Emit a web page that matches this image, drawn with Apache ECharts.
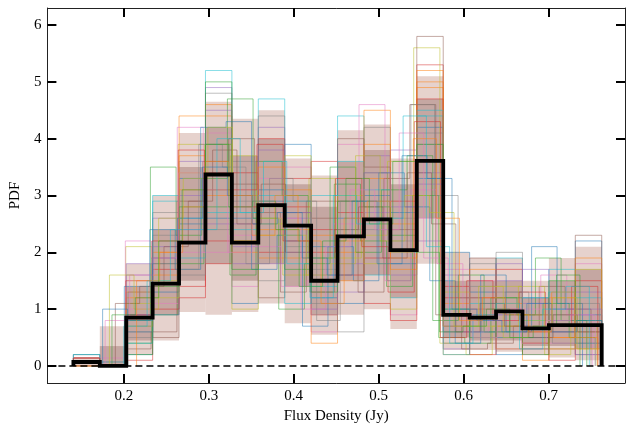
<!DOCTYPE html>
<html>
<head>
<meta charset="utf-8">
<script src="https://cdn.jsdelivr.net/npm/echarts@6/dist/echarts.min.js"></script>
<style>
html,body{margin:0;padding:0;background:#fff;}
#chart{width:626px;height:433px;}
</style>
</head>
<body>
<div id="chart"></div>
<script>
// ---- data ----
const xTicks = [0.2, 0.3, 0.4, 0.5, 0.6, 0.7];
const yTicks = [0, 1, 2, 3, 4, 5, 6];
const xTitle = 'Flux Density (Jy)';
const yTitle = 'PDF';

// main histogram (20 bins between start and end)
const mainStart = 0.1406;
const mainEnd = 0.7626;
const mainValues = [0.07, 0.0, 0.85, 1.45, 2.17, 3.37, 2.17, 2.83, 2.47, 1.50,
                    2.28, 2.58, 2.04, 3.61, 0.90, 0.85, 0.96, 0.66, 0.72, 0.72];

// density envelope of the resampled histograms (per main bin)
const outerLow  = [0.0, 0.0, 0.2, 0.45, 0.95, 0.9, 0.95, 1.1, 0.75, 0.55, 0.9, 1.0, 0.65, 1.8, 0.28, 0.28, 0.25, 0.2, 0.15, 0.1];
const outerHigh = [0.15, 0.7, 1.8, 3.0, 4.1, 4.65, 4.35, 4.5, 3.65, 3.35, 4.15, 4.25, 3.65, 5.1, 2.0, 1.9, 1.9, 1.5, 1.9, 2.1];
const innerLow  = [0.03, 0.0, 0.45, 0.9, 1.5, 1.8, 1.5, 1.8, 1.4, 0.9, 1.5, 1.6, 1.2, 2.6, 0.5, 0.45, 0.45, 0.35, 0.35, 0.3];
const innerHigh = [0.1, 0.35, 1.4, 2.4, 3.5, 4.2, 3.7, 4.0, 3.2, 2.8, 3.6, 3.8, 3.2, 4.7, 1.5, 1.5, 1.5, 1.2, 1.5, 1.7];

// individual resampled histograms (range start, range end, 20 bin values)
const sampleStart = [0.1406,0.1406,0.1406,0.1406,0.1406,0.1406,0.1406,0.1406,0.1406,0.1406,
                     0.1406,0.1406,0.1406,0.1406,0.1406,0.1406,0.1406,0.1406,0.1406,0.1406,
                     0.1406,0.1406,0.1406,0.1406,0.1406,
                     0.190,0.178,0.205,0.183,0.200,0.175,0.215,0.186];
const sampleEnd   = [0.7626,0.7626,0.755,0.7626,0.7626,0.750,0.7626,0.7626,0.757,0.7626,
                     0.7626,0.7626,0.745,0.7626,0.7626,0.7626,0.752,0.7626,0.7626,0.7626,
                     0.740,0.7626,0.7626,0.758,0.7626,
                     0.7626,0.755,0.760,0.7626,0.748,0.7626,0.758,0.737];
const sampleValues = [
  [0.07,0,0.6,1.3,2.5,3.9,2.6,3.1,2.2,1.2,2.6,2.9,1.8,4.2,0.7,0.6,0.9,0.5,0.8,0.9],
  [0.14,0,1.2,2.0,3.1,4.4,3.0,2.4,1.9,0.9,2.0,3.3,2.5,4.9,1.1,1.0,0.7,0.4,0.5,0.6],
  [0.07,0.07,0.4,0.9,1.8,2.8,1.6,3.6,3.0,1.9,3.2,2.2,1.4,3.0,0.5,0.4,1.2,0.9,1.1,0.5],
  [0.2,0,0.9,1.7,1.4,2.2,3.4,2.0,2.8,2.4,1.6,1.9,2.9,5.3,1.4,1.2,0.5,0.3,0.3,0.4],
  [0.07,0,1.6,2.6,3.6,4.9,2.1,4.2,2.6,1.0,1.3,3.7,1.6,3.4,0.3,0.8,1.5,1.1,0.6,1.3],
  [0,0,0.3,0.6,2.9,3.6,4.0,2.7,1.3,2.9,2.9,1.3,3.3,4.6,0.9,0.3,0.4,0.7,1.4,1.0],
  [0.14,0.14,1.0,1.1,2.0,4.1,1.4,3.3,3.5,0.6,3.9,2.6,0.9,2.6,1.7,1.5,0.9,0.2,0.4,1.8],
  [0.07,0,0.5,2.3,2.7,2.4,2.9,1.5,2.1,1.7,2.4,4.2,2.2,3.9,0.6,1.8,1.3,0.5,0.9,0.2],
  [0.07,0,2.1,1.5,3.9,3.1,3.7,2.3,1.6,3.3,1.9,2.3,3.6,5.6,0.4,0.2,0.7,1.4,0.2,0.7],
  [0.2,0.07,0.7,2.9,1.9,5.2,2.4,4.7,2.9,1.4,4.4,1.6,1.2,4.4,1.0,0.6,1.9,0.8,1.7,1.2],
  [0.07,0,0.2,0.9,3.3,2.6,1.1,2.9,3.9,2.1,1.1,3.0,2.7,3.3,2.0,1.3,0.2,1.2,0.7,2.2],
  [0,0,1.3,1.8,4.4,4.6,2.0,1.9,2.4,0.4,2.2,4.5,1.9,5.0,0.2,0.9,1.1,0.1,1.2,0.3],
  [0.07,0,0.8,3.5,2.3,3.3,4.7,2.6,1.0,1.8,3.5,2.0,3.1,3.7,0.8,1.6,0.6,0.9,1.9,0.8],
  [0.14,0,0.1,1.0,1.2,1.8,2.8,4.0,3.3,3.6,2.7,1.1,0.8,4.7,1.2,0.2,1.7,0.6,0.1,1.5],
  [0.07,0,1.8,2.1,3.0,4.5,1.8,3.8,2.0,0.9,1.8,2.7,3.8,2.2,0.6,1.0,0.3,1.7,1.0,0.2],
  [0,0,0.9,0.5,2.2,3.1,3.2,1.2,2.7,2.6,4.0,3.5,2.4,5.8,0.9,1.9,1.0,0.4,0.6,2.3],
  [0.07,0.07,2.2,1.9,4.2,2.0,2.3,2.1,1.4,1.5,2.5,4.6,1.5,3.1,1.8,0.6,0.8,1.0,1.6,0.9],
  [0.14,0,0.6,2.7,1.6,4.8,3.6,4.4,2.5,1.1,0.6,2.4,2.6,4.1,0.4,1.4,2.0,0.3,0.8,0.6],
  [0.07,0,1.1,1.2,3.4,3.9,1.0,2.5,3.7,1.9,3.0,1.8,1.0,3.6,1.3,0.7,1.4,0.8,0.3,1.7],
  [0.2,0,0.4,3.0,2.6,2.7,2.7,3.0,1.1,3.0,3.6,3.1,2.0,4.5,0.2,1.1,0.5,1.2,1.3,0.4],
  [0.07,0,1.4,2.4,1.7,4.2,4.3,1.7,2.3,0.7,2.1,1.5,3.4,2.8,1.5,0.4,1.6,0.6,2.1,1.1],
  [0,0,0.7,1.6,3.7,3.0,2.2,3.5,3.1,2.3,1.5,3.9,1.7,5.2,0.7,1.7,0.3,0.9,0.5,1.9],
  [0.07,0,0.2,1.4,2.8,5.0,1.7,2.8,1.7,1.3,2.9,2.8,2.3,3.9,1.0,0.5,1.2,0.2,1.5,0.8],
  [0.14,0,1.5,2.2,3.8,3.4,3.1,3.9,2.2,2.0,3.3,2.1,1.3,4.3,0.5,1.5,0.8,1.3,0.7,1.4],
  [0.07,0,0.9,1.9,2.4,2.5,2.5,1.8,2.7,1.6,2.3,3.4,2.8,3.2,1.6,0.9,1.8,0.7,1.0,1.0],
  [1.1,1.4,2.1,2.9,3.8,2.5,3.2,2.0,1.3,2.4,2.8,1.9,3.4,2.5,0.6,1.1,0.7,0.5,0.9,0.6],
  [0.8,1.6,1.9,3.4,3.1,2.0,2.9,2.6,1.0,2.1,3.1,2.4,4.1,1.9,0.9,0.5,1.0,0.4,0.8,0.9],
  [1.3,1.9,1.7,3.9,3.5,1.8,3.3,2.9,0.8,2.9,3.4,1.5,4.6,3.0,1.2,0.6,1.3,0.9,0.4,1.1],
  [1.6,1.0,2.6,3.3,4.2,2.2,2.6,2.3,1.6,1.8,3.7,2.2,3.0,2.7,0.7,1.4,0.5,0.7,1.2,0.3],
  [0.7,1.5,2.4,2.4,4.0,2.7,3.6,1.8,1.2,3.0,2.5,2.6,4.4,2.1,0.4,0.9,1.1,0.3,1.0,1.4],
  [1.0,0.8,1.8,2.6,3.5,3.0,2.5,2.7,1.9,1.6,2.9,1.8,3.7,3.3,1.0,0.8,0.6,1.1,0.6,0.8],
  [1.5,2.0,2.8,3.6,3.0,2.3,3.0,2.2,1.1,2.6,2.9,2.0,4.0,2.6,0.8,1.2,0.9,0.6,1.3,0.5],
  [0.9,1.2,2.2,3.1,3.9,2.8,2.9,2.4,1.4,2.2,3.3,2.5,3.6,2.0,0.6,0.7,1.0,0.5,0.7,1.6]
];
const sampleColors = ['#1f77b4','#ff7f0e','#2ca02c','#d62728','#9467bd','#8c564b','#e377c2','#7f7f7f','#bcbd22','#17becf'];

// ---- helpers ----
function binEdges(start, end, n) {
  const e = [];
  for (let k = 0; k <= n; k++) e.push(start + k * (end - start) / n);
  return e;
}
function stepPoints(start, end, vals) {
  const e = binEdges(start, end, vals.length);
  const pts = [[e[0], 0]];
  for (let i = 0; i < vals.length; i++) pts.push([e[i], vals[i]]);
  pts.push([e[vals.length], vals[vals.length - 1]]);
  pts.push([e[vals.length], 0]);
  return pts;
}

const mainEdges = binEdges(mainStart, mainEnd, mainValues.length);
function bandData(lo, hi) {
  return lo.map((v, i) => [mainEdges[i], mainEdges[i + 1], v, hi[i]]);
}
function bandSeries(lo, hi, fill) {
  return {
    type: 'custom', silent: true, clip: true, z: 1,
    encode: { x: [0, 1], y: [2, 3] },
    data: bandData(lo, hi),
    renderItem: function (params, api) {
      const p0 = api.coord([api.value(0), api.value(3)]);
      const p1 = api.coord([api.value(1), api.value(2)]);
      return { type: 'rect', shape: { x: p0[0], y: p0[1], width: p1[0] - p0[0], height: p1[1] - p0[1] },
               style: { fill: fill } };
    }
  };
}

const series = [];
series.push(bandSeries(outerLow, outerHigh, 'rgba(205,165,155,0.50)'));
series.push(bandSeries(innerLow, innerHigh, 'rgba(160,122,116,0.48)'));
sampleValues.forEach((vals, i) => {
  series.push({
    type: 'line', step: 'end', symbol: 'none', silent: true, z: 2,
    data: stepPoints(sampleStart[i], sampleEnd[i], vals),
    lineStyle: { width: 1, color: sampleColors[i % sampleColors.length], opacity: 0.5 }
  });
});
series.push({
  type: 'line', step: 'end', symbol: 'none', silent: true, z: 5,
  data: stepPoints(mainStart, mainEnd, mainValues),
  lineStyle: { width: 3.8, color: '#000', join: 'miter' },
  markLine: {
    silent: true, symbol: 'none', label: { show: false },
    lineStyle: { type: [7, 4], color: '#000', width: 1.6 },
    data: [{ yAxis: 0 }]
  }
});

const font = 'Liberation Serif';
const axisCommon = {
  axisLine: { show: true, onZero: false, lineStyle: { color: '#222', width: 1 } },
  splitLine: { show: false }
};
const option = {
  animation: false,
  backgroundColor: '#fff',
  grid: { left: 46, right: 1, top: 8, bottom: 50 },
  xAxis: [
    Object.assign({
      type: 'value', position: 'bottom', min: 0.11, max: 0.79,
      name: xTitle, nameLocation: 'middle', nameGap: 22,
      nameTextStyle: { fontFamily: font, fontSize: 15, color: '#000' },
      axisTick: { show: true, inside: true, length: 9, lineStyle: { width: 2, color: '#000' }, customValues: xTicks },
      axisLabel: { fontFamily: font, fontSize: 15, color: '#000', margin: 6, customValues: xTicks,
                   formatter: v => v.toFixed(1) }
    }, axisCommon),
    Object.assign({
      type: 'value', position: 'top', min: 0.11, max: 0.79,
      axisTick: { show: true, inside: true, length: 9, lineStyle: { width: 2, color: '#000' }, customValues: xTicks },
      axisLabel: { show: false }
    }, axisCommon)
  ],
  yAxis: [
    Object.assign({
      type: 'value', position: 'left', min: -0.3, max: 6.3,
      name: yTitle, nameLocation: 'middle', nameGap: 22,
      nameTextStyle: { fontFamily: font, fontSize: 15, color: '#000' },
      axisTick: { show: true, inside: true, length: 9, lineStyle: { width: 2, color: '#000' }, customValues: yTicks },
      axisLabel: { fontFamily: font, fontSize: 15, color: '#000', margin: 6, customValues: yTicks }
    }, axisCommon),
    Object.assign({
      type: 'value', position: 'right', min: -0.3, max: 6.3,
      axisTick: { show: true, inside: true, length: 9, lineStyle: { width: 2, color: '#000' }, customValues: yTicks },
      axisLabel: { show: false }
    }, axisCommon)
  ],
  series: series
};
const chart = echarts.init(document.getElementById('chart'), null, { renderer: 'canvas' });
chart.setOption(option);
</script>
</body>
</html>
